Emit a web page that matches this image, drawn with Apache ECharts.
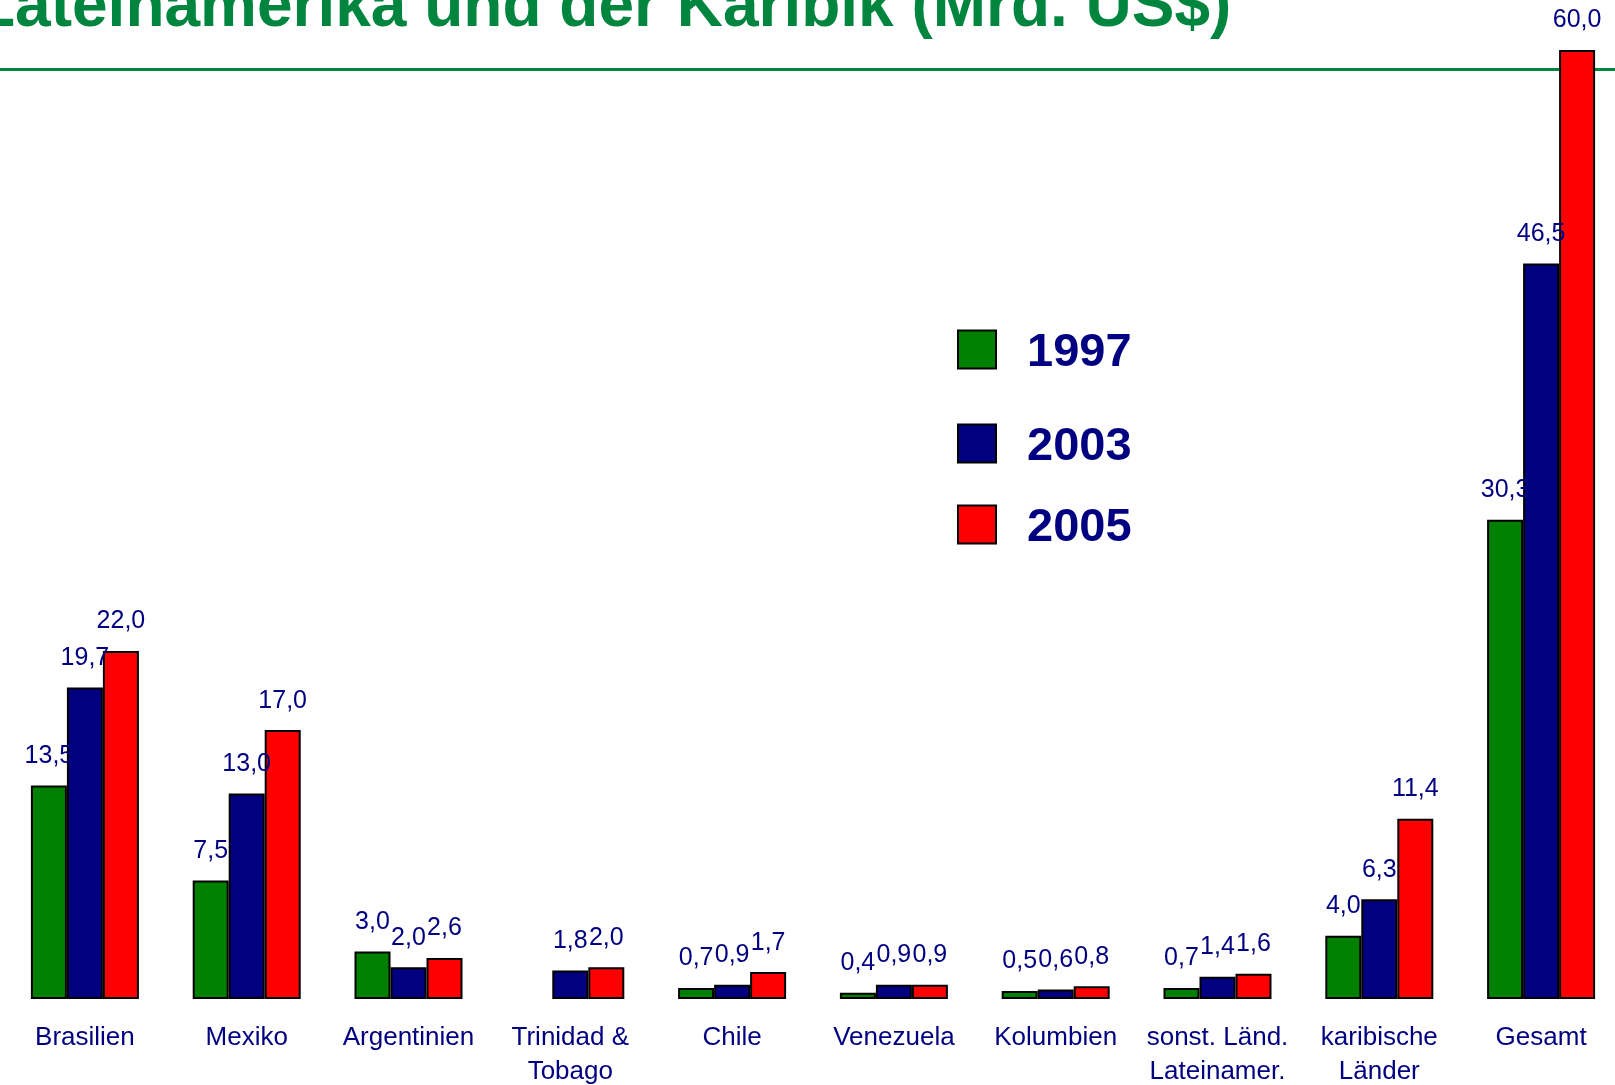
<!DOCTYPE html>
<html>
<head>
<meta charset="utf-8">
<title>Lateinamerika und der Karibik (Mrd. US$)</title>
<script src="https://cdn.jsdelivr.net/npm/echarts@6/dist/echarts.min.js"></script>
<style>
  html, body { margin: 0; padding: 0; background: #fff; }
  #main { width: 1615px; height: 1085px; }
</style>
</head>
<body>
<div id="main"></div>
<script>
// Kategorien und Werte (Mrd. US$)
var laender = ['Brasilien', 'Mexiko', 'Argentinien', 'Trinidad &\nTobago', 'Chile',
    'Venezuela', 'Kolumbien', 'sonst. Länd.\nLateinamer.', 'karibische\nLänder', 'Gesamt'];
var jahre = ['1997', '2003', '2005'];
var werte1997 = [13.5, 7.5, 3.0, null, 0.7, 0.4, 0.5, 0.7, 4.0, 30.3];
var werte2003 = [19.7, 13.0, 2.0, 1.8, 0.9, 0.9, 0.6, 1.4, 6.3, 46.5];
var werte2005 = [22.0, 17.0, 2.6, 2.0, 1.7, 0.9, 0.8, 1.6, 11.4, 60.0];
var farben = ['#008000', '#000080', '#FF0000'];

var gruen = '#00853F';
var blau = '#000080';

var myChart = echarts.init(document.getElementById('main'));

// eine Balkenreihe je Jahr
function reihe(name, werte, farbe) {
    return {
        name: name,
        type: 'bar',
        data: werte,
        barWidth: 36,
        barGap: '0%',
        itemStyle: {
            color: farbe,
            borderColor: '#000',
            borderWidth: 2
        },
        label: {
            show: true,
            position: 'top',
            distance: 17,
            color: blau,
            fontSize: 25,
            fontFamily: 'Arial',
            formatter: function (p) {
                return p.value.toFixed(1).replace('.', ',');
            }
        }
    };
}

// Legende: drei einzelne Einträge (ungleiche Abstände wie im Original)
function legende(name, top) {
    return {
        data: [name],
        left: 957,
        top: top,
        padding: 0,
        icon: 'rect',
        itemWidth: 38,
        itemHeight: 38,
        selectedMode: false,
        formatter: '{n|{name}}',
        textStyle: {
            rich: {
                n: {
                    color: blau,
                    fontSize: 47,
                    fontWeight: 'bold',
                    fontFamily: 'Arial',
                    lineHeight: 38,
                    padding: [8, 0, 0, 26]
                }
            }
        }
    };
}

var option = {
    animation: false,
    backgroundColor: '#fff',
    title: {
        text: 'Lateinamerika und der Karibik (Mrd. US$)',
        left: -29,
        top: -29,
        textStyle: {
            color: gruen,
            fontSize: 64,
            lineHeight: 64,
            fontWeight: 'bold',
            fontFamily: 'Arial'
        }
    },
    graphic: [{
        type: 'line',
        z: 0,
        shape: { x1: 0, y1: 69.5, x2: 1615, y2: 69.5 },
        style: { stroke: gruen, lineWidth: 3 }
    }],
    legend: [
        legende(jahre[0], 322),
        legende(jahre[1], 416),
        legende(jahre[2], 497)
    ],
    grid: {
        left: 4,
        width: 1618,
        top: 50,
        bottom: 86,
        containLabel: false,
        outerBoundsMode: 'none'
    },
    xAxis: {
        type: 'category',
        data: laender,
        axisLine: { show: false },
        axisTick: { show: false },
        axisLabel: {
            interval: 0,
            margin: 22,
            color: blau,
            fontSize: 26,
            lineHeight: 34,
            fontFamily: 'Arial'
        }
    },
    yAxis: {
        type: 'value',
        min: 0,
        max: 60,
        show: false,
        splitLine: { show: false }
    },
    series: [
        reihe(jahre[0], werte1997, farben[0]),
        reihe(jahre[1], werte2003, farben[1]),
        reihe(jahre[2], werte2005, farben[2])
    ]
};

myChart.setOption(option);
</script>
</body>
</html>
